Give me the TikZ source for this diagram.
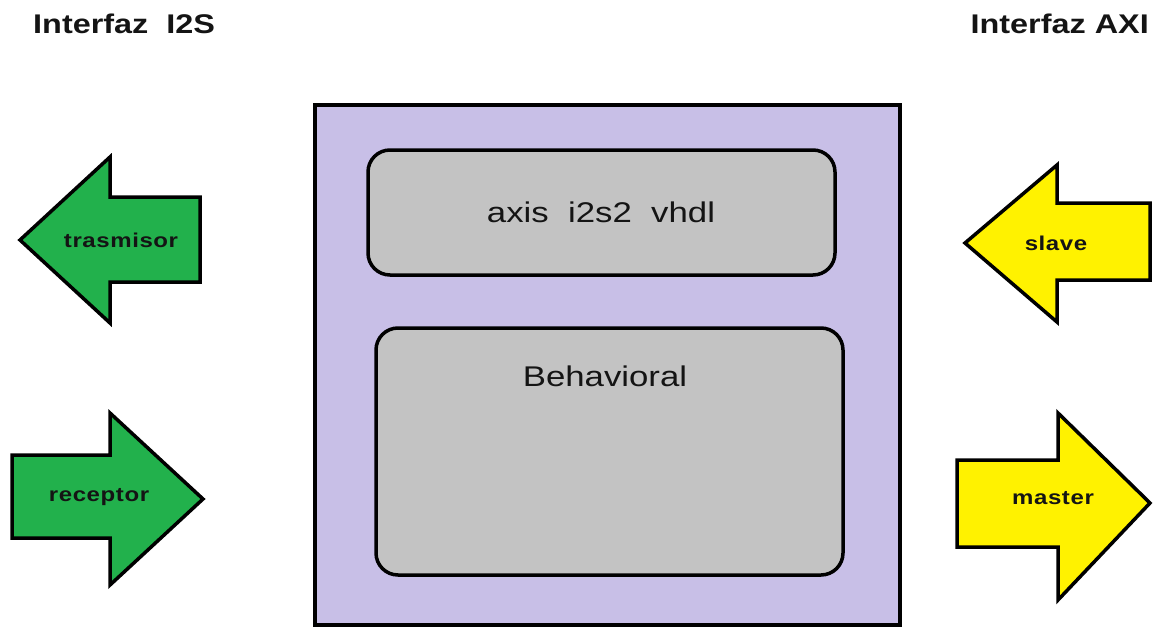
\documentclass[tikz,border=0pt]{standalone}
\usepackage{fontspec}
\setmainfont{Liberation Sans}
\newfontfamily\widefont[FakeStretch=1.22]{Liberation Sans}
\newfontfamily\widebold[FakeStretch=1.2]{Liberation Sans Bold}
\newfontfamily\tagfont[FakeStretch=1.2,LetterSpace=3]{Liberation Sans Bold}
\definecolor{paintgreen}{HTML}{22B14C}
\definecolor{paintyellow}{HTML}{FFF200}
\definecolor{lavender}{HTML}{C8BFE7}
\definecolor{lightgray}{HTML}{C3C3C3}
\definecolor{ink}{HTML}{141414}
\tikzset{
  outline/.style={draw=black, line width=3.5pt, line join=miter},
  block/.style={outline, fill=lightgray, rounded corners=22pt, inner sep=0pt},
  blocktext/.style={font=\widefont\fontsize{28.5}{32}\selectfont, text=ink, inner sep=0pt},
  title/.style={font=\widebold\fontsize{27}{30}\selectfont, text=ink, inner sep=0pt},
  tag/.style={font=\tagfont\fontsize{20}{22}\selectfont, text=ink, inner sep=0pt},
  greenarrow/.style={outline, fill=paintgreen},
  yellowarrow/.style={outline, fill=paintyellow},
}
\begin{document}
\begin{tikzpicture}[x=1pt, y=-1pt]
  \useasboundingbox (0,0) rectangle (1154,627);

  % interface headings
  \node[title, anchor=base west] (i2s) at (33,33) {Interfaz\ \ I2S};
  \node[title, anchor=base east] (axi) at (1149,33) {Interfaz AXI};

  % component body
  \node[outline, fill=lavender, minimum width=585pt, minimum height=520pt, inner sep=0pt]
    (core) at (607.5,365) {};
  \node[block, minimum width=467pt, minimum height=125pt] (axis) at (601.5,212.5) {};
  \node[blocktext] (axistext) at (601,212) {axis\ \ i2s2\ \ vhdl};
  \node[block, minimum width=467pt, minimum height=247pt] (beh) at (609.5,451.5) {};
  \node[blocktext] (behtext) at (605,376) {Behavioral};

  % I2S side ports
  \draw[greenarrow] (20,240) -- (110,157) -- (110,197) -- (200,197)
    -- (200,282) -- (110,282) -- (110,323) -- cycle;
  \node[tag] (tx) at (121,240) {trasmisor};
  \draw[greenarrow] (12,455) -- (110,455) -- (110,413) -- (203,499)
    -- (110,585) -- (110,538) -- (12,538) -- cycle;
  \node[tag] (rx) at (99,497) {receptor};

  % AXI side ports
  \draw[yellowarrow] (965,243) -- (1057,165) -- (1057,203) -- (1150,203)
    -- (1150,280) -- (1057,280) -- (1057,322) -- cycle;
  \node[tag] (slave) at (1056,243) {slave};
  \draw[yellowarrow] (957,460) -- (1058,460) -- (1058,413) -- (1150,503)
    -- (1058,600) -- (1058,547) -- (957,547) -- cycle;
  \node[tag] (master) at (1053,498) {master};
\end{tikzpicture}
\end{document}
